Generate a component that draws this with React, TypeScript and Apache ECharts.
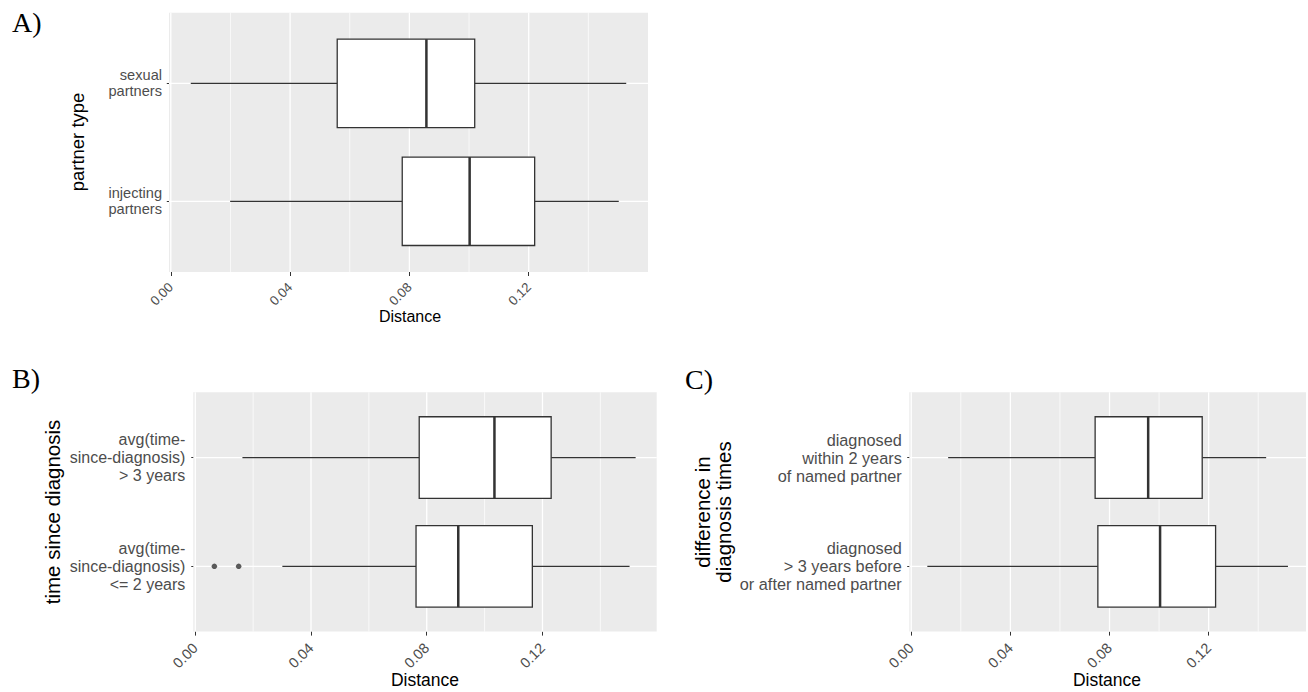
import React, { useEffect, useRef } from "react";
import * as echarts from "echarts";

// ---------- data ----------
const majorTicks = [0, 0.04, 0.08, 0.12];
const minorTicks = [0.02, 0.06, 0.1, 0.14];
const tickLabels = ["0.00", "0.04", "0.08", "0.12"];

// each stats row: [lower whisker, Q1, median, Q3, upper whisker]
const partnerCategories = ["sexual\npartners", "injecting\npartners"];
const partnerStats = [
  [0.0067, 0.0558, 0.0857, 0.1019, 0.1527],
  [0.0199, 0.0776, 0.1002, 0.122, 0.1502],
];

const timeCategories = [
  "avg(time-\nsince-diagnosis)\n> 3 years",
  "avg(time-\nsince-diagnosis)\n<= 2 years",
];
const timeStats = [
  [0.0163, 0.0774, 0.1034, 0.123, 0.1522],
  [0.0301, 0.0763, 0.0909, 0.1165, 0.1501],
];
const timeOutlierValues = [0.0066, 0.015];
const timeOutlierCategory = 2;

const diffCategories = [
  "diagnosed\nwithin 2 years\nof named partner",
  "diagnosed\n> 3 years before\nor after named partner",
];
const diffStats = [
  [0.0149, 0.0742, 0.0956, 0.1174, 0.1432],
  [0.0065, 0.0753, 0.1004, 0.1228, 0.152],
];

const panelLetters = ["A)", "B)", "C)"];
const yTitles = ["partner type", "time since diagnosis", "difference in\ndiagnosis times"];
const xTitle = "Distance";

// ---------- layout ----------
const FONT = "'Liberation Sans', Arial, sans-serif";
const SERIF = "'Liberation Serif', 'Times New Roman', serif";

const panels = [
  {
    cats: partnerCategories,
    stats: partnerStats,
    outliers: [] as number[],
    outlierCat: 0,
    grid: { left: 169, top: 12.7, width: 479, height: 259.3 },
    catFont: 14.6,
    catLH: 16,
    catMargin: 7,
    tickFont: 13.2,
    tickMargin: 13,
    letter: { x: 12, y: 22.5 },
    yTitle: { x: 77, y: 142, size: 18.5, lh: 22 },
    xTitle: { x: 410, y: 316, size: 16 },
  },
  {
    cats: timeCategories,
    stats: timeStats,
    outliers: timeOutlierValues,
    outlierCat: timeOutlierCategory,
    grid: { left: 193.3, top: 392.3, width: 463.4, height: 239.3 },
    catFont: 16,
    catLH: 17.8,
    catMargin: 8,
    tickFont: 14.5,
    tickMargin: 14,
    letter: { x: 12, y: 378.5 },
    yTitle: { x: 52, y: 512, size: 20.5, lh: 22 },
    xTitle: { x: 425, y: 680, size: 17.5 },
  },
  {
    cats: diffCategories,
    stats: diffStats,
    outliers: [] as number[],
    outlierCat: 0,
    grid: { left: 909.3, top: 392.3, width: 396.7, height: 239.3 },
    catFont: 16.3,
    catLH: 18,
    catMargin: 7.5,
    tickFont: 14.5,
    tickMargin: 14,
    letter: { x: 685, y: 379 },
    yTitle: { x: 713, y: 512, size: 20.5, lh: 21 },
    xTitle: { x: 1107, y: 680, size: 17.5 },
  },
];

function xRange(stats: number[][], outliers: number[]) {
  const vals = stats.flat().concat(outliers);
  const lo = Math.min(...vals);
  const hi = Math.max(...vals);
  const pad = (hi - lo) * 0.05;
  return [lo - pad, hi + pad];
}

function tickLabel(v: number) {
  const i = majorTicks.findIndex((t) => Math.abs(t - v) < 1e-9);
  return i >= 0 ? tickLabels[i] : "";
}

const BOX_HALF = 0.375;
const LINE = "#333333";

function renderBox(params: any, api: any) {
  const c = api.value(0);
  const lo = api.value(1);
  const q1 = api.value(2);
  const med = api.value(3);
  const q3 = api.value(4);
  const hi = api.value(5);
  const pLo = api.coord([lo, c]);
  const pQ1 = api.coord([q1, c]);
  const pQ3 = api.coord([q3, c]);
  const pHi = api.coord([hi, c]);
  const a = api.coord([q1, c - BOX_HALF]);
  const b = api.coord([q3, c + BOX_HALF]);
  const m1 = api.coord([med, c - BOX_HALF]);
  const m2 = api.coord([med, c + BOX_HALF]);
  const top = Math.min(a[1], b[1]);
  const h = Math.abs(b[1] - a[1]);
  return {
    type: "group",
    children: [
      { type: "line", shape: { x1: pLo[0], y1: pLo[1], x2: pQ1[0], y2: pQ1[1] }, style: { stroke: LINE, lineWidth: 1.3 } },
      { type: "line", shape: { x1: pQ3[0], y1: pQ3[1], x2: pHi[0], y2: pHi[1] }, style: { stroke: LINE, lineWidth: 1.3 } },
      { type: "rect", shape: { x: a[0], y: top, width: b[0] - a[0], height: h }, style: { fill: "#ffffff", stroke: LINE, lineWidth: 1.3 } },
      { type: "line", shape: { x1: m1[0], y1: m1[1], x2: m2[0], y2: m2[1] }, style: { stroke: LINE, lineWidth: 2.5 } },
    ],
  };
}

function renderGridLine(params: any, api: any) {
  const kind = api.value(0);
  const v = api.value(1);
  const cs = params.coordSys;
  if (kind === 2) {
    const y = api.coord([0, v])[1];
    return { type: "line", shape: { x1: cs.x, y1: y, x2: cs.x + cs.width, y2: y }, style: { stroke: "#ffffff", lineWidth: 1.3 } };
  }
  const x = api.coord([v, 1])[0];
  return {
    type: "line",
    shape: { x1: x, y1: cs.y, x2: x, y2: cs.y + cs.height },
    style: { stroke: "#ffffff", lineWidth: kind === 1 ? 1.3 : 0.7 },
  };
}

export default function App() {
  const ref = useRef<HTMLDivElement>(null);
  useEffect(() => {
    if (!ref.current) return;
    const chart = echarts.init(ref.current, null, { renderer: "svg" });

    const grids: any[] = [];
    const xAxes: any[] = [];
    const yAxes: any[] = [];
    const series: any[] = [];
    const graphics: any[] = [];

    panels.forEach((p, i) => {
      const [xmin, xmax] = xRange(p.stats, p.outliers);
      grids.push({
        ...p.grid,
        show: true,
        backgroundColor: "#EBEBEB",
        borderWidth: 0,
        containLabel: false,
        outerBoundsMode: "none",
      });
      xAxes.push({
        type: "value",
        gridIndex: i,
        min: xmin,
        max: xmax,
        axisLine: { show: false },
        axisTick: { show: true, customValues: majorTicks, length: 4, lineStyle: { color: LINE, width: 1 } },
        axisLabel: {
          customValues: majorTicks,
          rotate: 45,
          margin: p.tickMargin,
          fontSize: p.tickFont,
          color: "#4D4D4D",
          fontFamily: FONT,
          formatter: (v: number) => tickLabel(v),
        },
        splitLine: { show: false },
      });
      const cats = p.cats;
      yAxes.push({
        type: "value",
        gridIndex: i,
        min: 0.4,
        max: 2.6,
        inverse: true,
        axisLine: { show: false },
        axisTick: { show: true, customValues: [1, 2], length: 4, lineStyle: { color: LINE, width: 1 } },
        axisLabel: {
          customValues: [1, 2],
          margin: p.catMargin,
          fontSize: p.catFont,
          lineHeight: p.catLH,
          color: "#4D4D4D",
          fontFamily: FONT,
          align: "right",
          formatter: (v: number) => cats[Math.round(v) - 1] || "",
        },
        splitLine: { show: false },
      });

      const gridData: any[] = [];
      majorTicks.forEach((t) => gridData.push([1, t]));
      minorTicks.forEach((t) => gridData.push([0, t]));
      cats.forEach((_, k) => gridData.push([2, k + 1]));
      series.push({
        type: "custom",
        xAxisIndex: i,
        yAxisIndex: i,
        z: 1,
        silent: true,
        renderItem: renderGridLine,
        data: gridData,
      });
      series.push({
        type: "custom",
        xAxisIndex: i,
        yAxisIndex: i,
        z: 3,
        renderItem: renderBox,
        encode: { x: [1, 2, 3, 4, 5], y: 0 },
        data: p.stats.map((s, k) => [k + 1, ...s]),
      });
      if (p.outliers.length) {
        series.push({
          type: "scatter",
          xAxisIndex: i,
          yAxisIndex: i,
          z: 4,
          symbol: "circle",
          symbolSize: 5.5,
          itemStyle: { color: LINE },
          data: p.outliers.map((v) => [v, p.outlierCat]),
        });
      }

      graphics.push({
        type: "text",
        x: p.letter.x,
        y: p.letter.y,
        style: { text: panelLetters[i], font: `28px ${SERIF}`, fill: "#000", align: "left", verticalAlign: "middle" },
      });
      graphics.push({
        type: "text",
        x: p.yTitle.x,
        y: p.yTitle.y,
        rotation: Math.PI / 2,
        style: {
          text: yTitles[i],
          font: `${p.yTitle.size}px ${FONT}`,
          lineHeight: p.yTitle.lh,
          fill: "#000",
          align: "center",
          verticalAlign: "middle",
        },
      });
      graphics.push({
        type: "text",
        x: p.xTitle.x,
        y: p.xTitle.y,
        style: { text: xTitle, font: `${p.xTitle.size}px ${FONT}`, fill: "#000", align: "center", verticalAlign: "middle" },
      });
    });

    chart.setOption({
      animation: false,
      backgroundColor: "#ffffff",
      textStyle: { fontFamily: FONT },
      grid: grids,
      xAxis: xAxes,
      yAxis: yAxes,
      series,
      graphic: graphics,
    });
    return () => chart.dispose();
  }, []);
  return (
    <div
      ref={ref}
      style={{ position: "absolute", left: 0, top: 0, width: 1308, height: 692, background: "#fff" }}
    />
  );
}
